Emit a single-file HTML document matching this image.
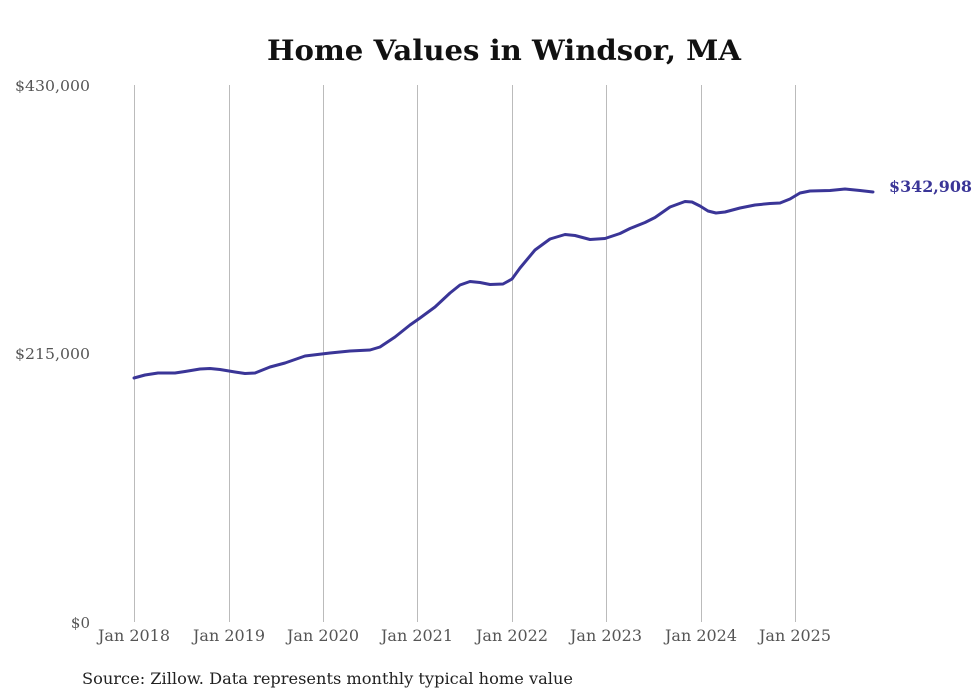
<!DOCTYPE html>
<html><head><style>html,body{margin:0;padding:0;background:#fff;}</style></head>
<body>
<svg width="980" height="699" xmlns="http://www.w3.org/2000/svg" style="display:block;font-family:'DejaVu Serif',serif">
<rect width="980" height="699" fill="#fff"/>
<text x="267" y="60" font-size="28" font-weight="bold" fill="#111" textLength="474" lengthAdjust="spacingAndGlyphs">Home Values in Windsor, MA</text>
<g stroke="#bbb" stroke-width="1">
<line x1="134.5" y1="85" x2="134.5" y2="622"/>
<line x1="229.5" y1="85" x2="229.5" y2="622"/>
<line x1="323.5" y1="85" x2="323.5" y2="622"/>
<line x1="417.5" y1="85" x2="417.5" y2="622"/>
<line x1="512.5" y1="85" x2="512.5" y2="622"/>
<line x1="606.5" y1="85" x2="606.5" y2="622"/>
<line x1="701.5" y1="85" x2="701.5" y2="622"/>
<line x1="795.5" y1="85" x2="795.5" y2="622"/>
</g>
<g font-size="15" fill="#555">
<text x="15" y="91" textLength="75" lengthAdjust="spacingAndGlyphs">$430,000</text>
<text x="15" y="359" textLength="75" lengthAdjust="spacingAndGlyphs">$215,000</text>
<text x="90" y="628" text-anchor="end">$0</text>
<g font-size="16">
<text x="98" y="641" textLength="72" lengthAdjust="spacingAndGlyphs">Jan 2018</text>
<text x="193" y="641" textLength="72" lengthAdjust="spacingAndGlyphs">Jan 2019</text>
<text x="287" y="641" textLength="72" lengthAdjust="spacingAndGlyphs">Jan 2020</text>
<text x="381" y="641" textLength="72" lengthAdjust="spacingAndGlyphs">Jan 2021</text>
<text x="476" y="641" textLength="72" lengthAdjust="spacingAndGlyphs">Jan 2022</text>
<text x="570" y="641" textLength="72" lengthAdjust="spacingAndGlyphs">Jan 2023</text>
<text x="665" y="641" textLength="72" lengthAdjust="spacingAndGlyphs">Jan 2024</text>
<text x="759" y="641" textLength="72" lengthAdjust="spacingAndGlyphs">Jan 2025</text>
</g>
</g>
<polyline fill="none" stroke="#3a3597" stroke-width="3" stroke-linejoin="round" stroke-linecap="round"
points="134,378 145,375 158,373 175,373 185,371.5 200,369 210,368.5 220,369.5 235,372 245,373.5 255,373 270,367 285,363 305,356 330,353 350,351 370,350 380,347 395,337 410,325 420,318 435,307 450,293 460,285 470,281.5 480,282.5 490,284.5 503,284 512,279 520,268 535,250 550,239 565,234.5 575,235.5 590,239.5 605,238.5 620,233.5 630,228.5 645,222.5 655,217.5 670,207 685,201.5 692,202 700,206 708,211 716,213 725,212 740,208 755,205 770,203.5 780,203 790,199 800,193 810,191 830,190.5 845,189 860,190.5 873,192"/>
<text x="889" y="192" font-size="16" font-weight="bold" fill="#3a3597" textLength="83" lengthAdjust="spacingAndGlyphs">$342,908</text>
<text x="82" y="684" font-size="16" fill="#222" textLength="491" lengthAdjust="spacingAndGlyphs">Source: Zillow. Data represents monthly typical home value</text>
</svg>
</body></html>
